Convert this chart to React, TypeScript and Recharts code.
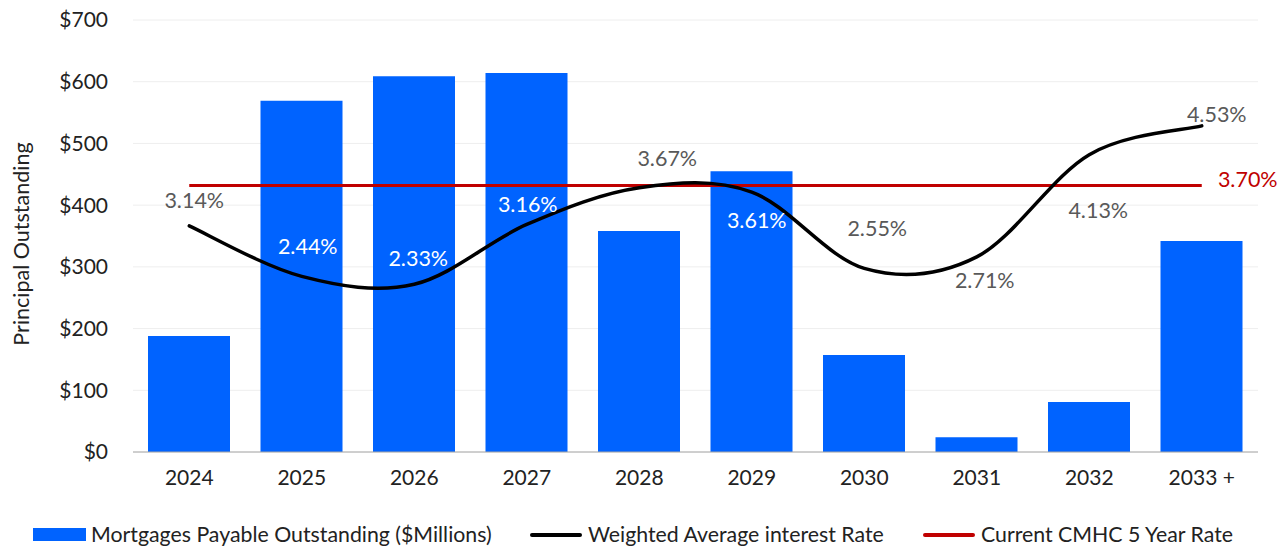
import React from "react";
import { ComposedChart, Bar, Line, XAxis, YAxis, CartesianGrid, LabelList, Legend } from "recharts";

const years = ["2024", "2025", "2026", "2027", "2028", "2029", "2030", "2031", "2032", "2033 +"];
const principal = [188, 569, 609, 614, 358, 455, 157, 24, 81, 342];
const weightedRate = [3.14, 2.44, 2.33, 3.16, 3.67, 3.61, 2.55, 2.71, 4.13, 4.53];
const cmhcRate = [3.7, 3.7, 3.7, 3.7, 3.7, 3.7, 3.7, 3.7, 3.7, 3.7];
const principalTicks = [0, 100, 200, 300, 400, 500, 600, 700];

// where Excel put each rate label, relative to its point
const rateLabelDx = [5, 6, 4, 1, 28, 5, 13, 8, 9, 15];
const rateLabelDy = [-26, -30, -26, -20, -30, 28, -40, 23, 55, -12];
const rateLabelWhite = [false, true, true, true, false, true, false, false, false, false];

const BLUE = "#0063FF";
const RED = "#C00000";
const FONT = "Lato, 'Noto Sans', sans-serif";
const TEXT = "#222222";

const data = years.map((year, i) => ({
  year,
  principal: principal[i],
  rate: weightedRate[i],
  cmhc: cmhcRate[i],
}));

// Excel-style smoothed line (Catmull-Rom through the points)
const smoothCurve = (context: any) => {
  let pts: [number, number][] = [];
  return {
    areaStart() {},
    areaEnd() {},
    lineStart() {
      pts = [];
    },
    point(x: number, y: number) {
      pts.push([+x, +y]);
    },
    lineEnd() {
      if (!pts.length) return;
      context.moveTo(pts[0][0], pts[0][1]);
      for (let i = 0; i < pts.length - 1; i++) {
        const p0 = pts[i - 1] || pts[i];
        const p1 = pts[i];
        const p2 = pts[i + 1];
        const p3 = pts[i + 2] || p2;
        context.bezierCurveTo(
          p1[0] + (p2[0] - p0[0]) / 6,
          p1[1] + (p2[1] - p0[1]) / 6,
          p2[0] - (p3[0] - p1[0]) / 6,
          p2[1] - (p3[1] - p1[1]) / 6,
          p2[0],
          p2[1]
        );
      }
    },
  };
};

const RateLabel = (props: any) => {
  const { x, y, value, index } = props;
  return (
    <text
      x={x + rateLabelDx[index]}
      y={y + rateLabelDy[index]}
      textAnchor="middle"
      dominantBaseline="central"
      fontFamily={FONT}
      fontSize={21.5}
      fill={rateLabelWhite[index] ? "#FFFFFF" : "#595959"}
    >
      {`${Number(value).toFixed(2)}%`}
    </text>
  );
};

const CmhcLabel = (props: any) => {
  const { x, y, value, index } = props;
  if (index !== years.length - 1) return null;
  return (
    <text x={x + 46} y={y - 7} textAnchor="middle" dominantBaseline="central" fontFamily={FONT} fontSize={21.5} fill={RED}>
      {`${Number(value).toFixed(2)}%`}
    </text>
  );
};

const legendItems = [
  { name: "Mortgages Payable Outstanding ($Millions)", color: BLUE, kind: "rect", left: 33 },
  { name: "Weighted Average interest Rate", color: "#000000", kind: "line", left: 530 },
  { name: "Current CMHC 5 Year Rate", color: RED, kind: "line", left: 923 },
];

const renderLegend = () => (
  <div style={{ position: "relative", height: 54, width: 1279, fontFamily: FONT, fontSize: 21.3, color: TEXT }}>
    {legendItems.map((item) => (
      <React.Fragment key={item.name}>
        {item.kind === "rect" ? (
          <span style={{ position: "absolute", left: item.left, top: 36, width: 53, height: 13, background: item.color }} />
        ) : (
          <span style={{ position: "absolute", left: item.left, top: 41, width: 52, height: 4, borderRadius: 2, background: item.color }} />
        )}
        <span style={{ position: "absolute", left: item.left + 58, top: 29, lineHeight: "26px", whiteSpace: "nowrap" }}>
          {item.name}
        </span>
      </React.Fragment>
    ))}
  </div>
);

export default function App() {
  return (
    <div style={{ position: "absolute", left: 0, top: 0, background: "#fff" }}>
      <ComposedChart width={1279} height={546} data={data} margin={{ top: 20, right: 21, left: 0, bottom: 0 }}>
        <CartesianGrid yAxisId="left" vertical={false} stroke="#EEEEEE" />
        <XAxis
          dataKey="year"
          axisLine={{ stroke: "#A6A6A6" }}
          tickLine={false}
          tickSize={0}
          tickMargin={18}
          height={40}
          tick={{ fontFamily: FONT, fontSize: 21, fill: TEXT }}
        />
        <YAxis
          yAxisId="left"
          width={133}
          domain={[0, 700]}
          ticks={principalTicks}
          tickFormatter={(v) => `$${v}`}
          axisLine={false}
          tickLine={false}
          tickSize={0}
          tickMargin={25}
          tick={{ fontFamily: FONT, fontSize: 21, fill: TEXT }}
          label={{
            content: () => (
              <text
                x={21}
                y={244}
                transform="rotate(-90 21 244)"
                textAnchor="middle"
                dominantBaseline="central"
                fontFamily={FONT}
                fontSize={21.5}
                fill={TEXT}
              >
                Principal Outstanding
              </text>
            ),
          }}
        />
        <YAxis yAxisId="right" orientation="right" domain={[0, 6]} hide />
        <Legend verticalAlign="bottom" content={renderLegend} />
        <Bar yAxisId="left" dataKey="principal" fill={BLUE} barSize={82} isAnimationActive={false} />
        <Line
          yAxisId="right"
          dataKey="cmhc"
          stroke={RED}
          strokeWidth={3}
          dot={false}
          activeDot={false}
          isAnimationActive={false}
        >
          <LabelList dataKey="cmhc" content={CmhcLabel} />
        </Line>
        <Line
          yAxisId="right"
          dataKey="rate"
          type={smoothCurve as any}
          stroke="#000000"
          strokeWidth={3.5}
          strokeLinecap="round"
          dot={false}
          activeDot={false}
          isAnimationActive={false}
        >
          <LabelList dataKey="rate" content={RateLabel} />
        </Line>
      </ComposedChart>
    </div>
  );
}
